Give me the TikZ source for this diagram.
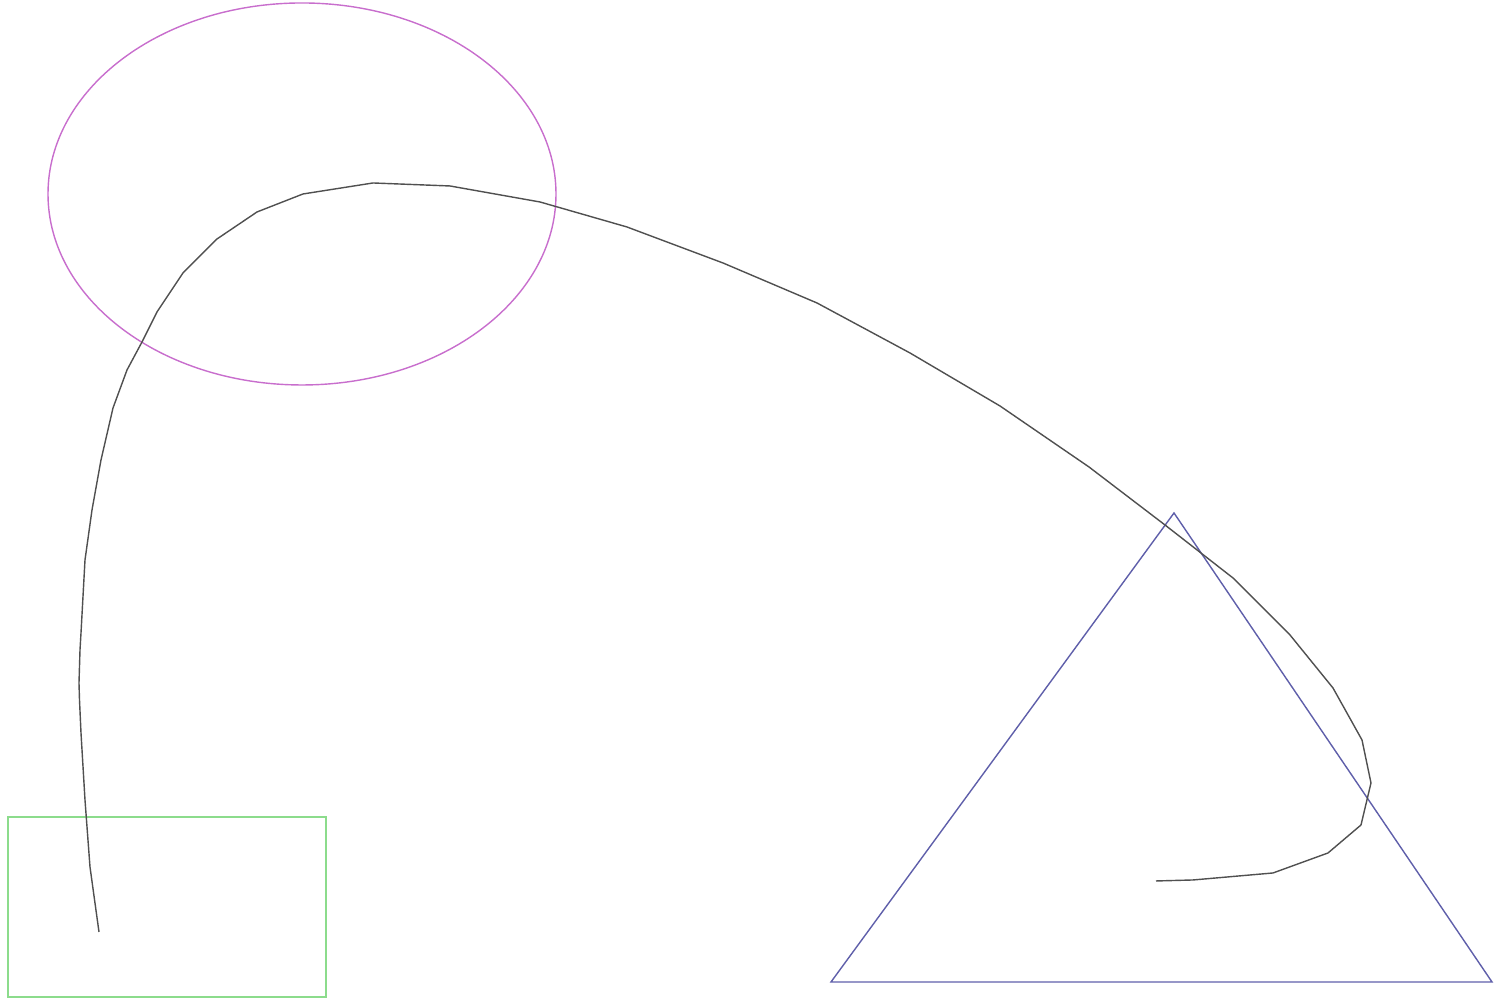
\documentclass[tikz,border=0pt]{standalone}
\usepackage{amsmath,amssymb}
\usepackage{tikz}
\definecolor{lilac}{RGB}{200,110,205}
\definecolor{mint}{RGB}{140,220,140}
\definecolor{slate}{RGB}{95,95,170}
\definecolor{ink}{RGB}{80,80,80}
\begin{document}
\begin{tikzpicture}[line width=0.4pt]
\useasboundingbox (0,0) rectangle (15,10);
\draw[lilac] (3.02,8.06) ellipse (2.54 and 1.91);
\draw[mint] (0.08,0.03) rectangle (3.26,1.83);
\draw[slate] (8.31,0.18)--(14.92,0.18)--(11.74,4.87)--cycle;
\draw[ink] (0.99,0.68)--(0.90,1.33)--(0.85,2.00)--(0.81,2.67)--(0.795,3.00)--(0.79,3.17)--(0.80,3.50)--(0.81,3.67)--(0.85,4.40)--(0.92,4.90)--(1.01,5.40)--(1.13,5.92)--(1.27,6.30)--(1.42,6.58)--(1.57,6.88)--(1.83,7.27)--(2.17,7.61)--(2.57,7.88)--(3.03,8.06)--(3.73,8.17)--(4.50,8.14)--(5.40,7.98)--(6.27,7.73)--(7.23,7.37)--(8.17,6.97)--(9.10,6.47)--(10.00,5.94)--(10.89,5.33)--(11.65,4.75)--(12.33,4.22)--(12.90,3.65)--(13.33,3.12)--(13.62,2.60)--(13.71,2.17)--(13.61,1.75)--(13.28,1.47)--(12.73,1.27)--(11.93,1.20)--(11.56,1.19);
\end{tikzpicture}
\end{document}
